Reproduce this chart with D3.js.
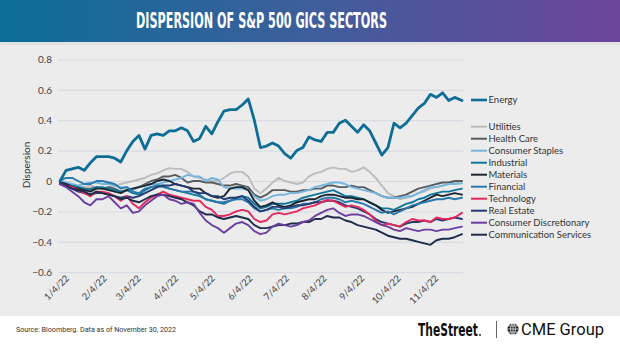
<!DOCTYPE html>
<html>
<head>
<meta charset="utf-8">
<script src="https://cdn.jsdelivr.net/npm/d3@7"></script>
<style>
  html, body { margin: 0; padding: 0; background: #fff; }
  svg { display: block; }
</style>
</head>
<body>
<svg id="chart" width="620" height="349"></svg>
<script>
// Observation dates: every fifth calendar day from the first trading day, closing on Nov 30
const dates = [...d3.timeDay.range(new Date(2022, 0, 3), new Date(2022, 10, 29), 5), new Date(2022, 10, 30)];

// Cumulative dispersion by sector
const energy = [0.00,0.07,0.08,0.09,0.07,0.12,0.16,0.16,0.16,0.15,0.125,0.20,0.26,0.30,0.21,0.30,0.31,0.30,0.33,0.33,0.35,0.33,0.26,0.28,0.36,0.31,0.39,0.46,0.47,0.47,0.50,0.54,0.40,0.22,0.23,0.25,0.23,0.18,0.15,0.20,0.22,0.29,0.27,0.26,0.32,0.32,0.38,0.40,0.36,0.32,0.37,0.33,0.25,0.17,0.22,0.38,0.35,0.38,0.43,0.48,0.51,0.57,0.55,0.58,0.53,0.55,0.53];
const utilities = [-0.01,-0.02,-0.03,-0.03,-0.04,-0.03,-0.04,-0.05,-0.04,-0.03,-0.02,-0.01,0.00,0.01,0.02,0.04,0.05,0.07,0.085,0.08,0.08,0.06,0.03,0.02,0.01,0.00,0.00,0.02,0.05,0.06,0.06,0.03,-0.05,-0.08,-0.05,-0.01,0.02,0.00,-0.01,-0.02,-0.01,0.03,0.05,0.06,0.08,0.09,0.08,0.08,0.06,0.07,0.09,0.06,0.02,-0.03,-0.08,-0.10,-0.12,-0.11,-0.10,-0.08,-0.07,-0.05,-0.04,-0.03,-0.02,-0.01,0.00];
const healthCare = [-0.01,-0.02,-0.03,-0.04,-0.05,-0.05,-0.04,-0.05,-0.04,-0.05,-0.07,-0.06,-0.05,-0.04,-0.02,0.00,0.01,0.03,0.03,0.04,0.02,-0.01,0.00,0.00,-0.01,-0.01,-0.02,-0.03,-0.03,-0.02,-0.03,-0.04,-0.09,-0.11,-0.09,-0.06,-0.06,-0.06,-0.07,-0.07,-0.06,-0.06,-0.05,-0.05,-0.03,-0.03,-0.04,-0.04,-0.03,-0.04,-0.04,-0.06,-0.08,-0.10,-0.11,-0.11,-0.10,-0.09,-0.07,-0.05,-0.04,-0.03,-0.02,-0.01,-0.01,0.00,0.00];
const consumerStaples = [0.00,-0.01,-0.02,-0.03,-0.02,-0.01,-0.01,-0.02,-0.02,-0.03,-0.04,-0.04,-0.06,-0.04,-0.03,-0.02,-0.02,-0.01,0.00,0.01,0.02,0.04,0.03,0.03,0.00,0.02,0.01,-0.04,-0.05,-0.05,-0.05,-0.06,-0.10,-0.13,-0.12,-0.10,-0.09,-0.09,-0.08,-0.08,-0.07,-0.06,-0.04,-0.03,-0.02,-0.01,-0.01,-0.02,-0.04,-0.05,-0.06,-0.07,-0.08,-0.10,-0.11,-0.11,-0.11,-0.10,-0.10,-0.08,-0.06,-0.04,-0.04,-0.03,-0.02,-0.02,-0.015];
const industrial = [-0.01,-0.02,-0.03,-0.04,-0.05,-0.06,-0.04,-0.04,-0.05,-0.06,-0.07,-0.06,-0.08,-0.09,-0.06,-0.04,-0.03,-0.03,-0.05,-0.06,-0.07,-0.08,-0.09,-0.10,-0.12,-0.13,-0.14,-0.15,-0.13,-0.11,-0.10,-0.11,-0.15,-0.18,-0.17,-0.15,-0.15,-0.15,-0.14,-0.13,-0.11,-0.10,-0.09,-0.08,-0.07,-0.06,-0.08,-0.10,-0.10,-0.11,-0.12,-0.14,-0.16,-0.18,-0.18,-0.19,-0.17,-0.15,-0.14,-0.12,-0.11,-0.09,-0.08,-0.07,-0.07,-0.06,-0.05];
const materials = [-0.01,-0.02,-0.04,-0.05,-0.06,-0.07,-0.05,-0.05,-0.06,-0.07,-0.08,-0.06,-0.05,-0.04,-0.03,-0.02,0.00,0.01,0.00,-0.02,-0.03,-0.04,-0.05,-0.05,-0.08,-0.10,-0.11,-0.10,-0.05,-0.04,-0.04,-0.06,-0.13,-0.17,-0.16,-0.14,-0.16,-0.17,-0.16,-0.14,-0.13,-0.12,-0.12,-0.10,-0.09,-0.09,-0.10,-0.11,-0.11,-0.12,-0.12,-0.14,-0.16,-0.19,-0.21,-0.20,-0.19,-0.18,-0.17,-0.15,-0.13,-0.11,-0.09,-0.10,-0.09,-0.08,-0.09];
const financial = [0.00,0.02,0.02,0.00,-0.02,-0.02,0.00,0.00,-0.01,-0.02,-0.05,-0.04,-0.07,-0.08,-0.05,-0.04,-0.03,-0.04,-0.05,-0.06,-0.07,-0.07,-0.07,-0.09,-0.12,-0.13,-0.14,-0.14,-0.13,-0.12,-0.12,-0.14,-0.18,-0.20,-0.19,-0.18,-0.19,-0.18,-0.18,-0.17,-0.15,-0.15,-0.14,-0.12,-0.11,-0.11,-0.12,-0.14,-0.13,-0.14,-0.15,-0.17,-0.19,-0.21,-0.20,-0.22,-0.20,-0.18,-0.16,-0.15,-0.14,-0.13,-0.12,-0.12,-0.11,-0.12,-0.11];
const technology = [-0.02,-0.03,-0.04,-0.06,-0.08,-0.10,-0.07,-0.07,-0.08,-0.10,-0.13,-0.10,-0.15,-0.18,-0.14,-0.11,-0.09,-0.07,-0.09,-0.10,-0.11,-0.12,-0.13,-0.13,-0.17,-0.19,-0.23,-0.23,-0.22,-0.20,-0.19,-0.20,-0.25,-0.27,-0.26,-0.22,-0.21,-0.22,-0.21,-0.20,-0.18,-0.17,-0.16,-0.14,-0.125,-0.13,-0.15,-0.17,-0.16,-0.17,-0.19,-0.22,-0.26,-0.29,-0.28,-0.29,-0.30,-0.27,-0.25,-0.26,-0.26,-0.27,-0.24,-0.25,-0.25,-0.24,-0.21];
const realEstate = [-0.01,-0.03,-0.05,-0.07,-0.08,-0.09,-0.08,-0.08,-0.09,-0.10,-0.11,-0.10,-0.11,-0.10,-0.08,-0.06,-0.04,-0.03,-0.03,-0.02,-0.03,-0.04,-0.07,-0.08,-0.08,-0.10,-0.10,-0.12,-0.11,-0.11,-0.10,-0.13,-0.17,-0.20,-0.19,-0.17,-0.17,-0.18,-0.17,-0.16,-0.16,-0.15,-0.14,-0.14,-0.13,-0.13,-0.14,-0.16,-0.17,-0.18,-0.20,-0.22,-0.25,-0.27,-0.28,-0.29,-0.30,-0.28,-0.27,-0.27,-0.26,-0.27,-0.25,-0.26,-0.25,-0.24,-0.25];
const consumerDiscretionary = [-0.02,-0.04,-0.07,-0.10,-0.14,-0.16,-0.12,-0.12,-0.10,-0.14,-0.18,-0.16,-0.21,-0.20,-0.16,-0.13,-0.10,-0.09,-0.12,-0.13,-0.15,-0.14,-0.15,-0.21,-0.26,-0.29,-0.31,-0.34,-0.31,-0.28,-0.27,-0.29,-0.33,-0.35,-0.34,-0.30,-0.28,-0.29,-0.30,-0.29,-0.27,-0.26,-0.23,-0.21,-0.19,-0.18,-0.21,-0.23,-0.22,-0.22,-0.23,-0.25,-0.27,-0.29,-0.30,-0.32,-0.33,-0.31,-0.32,-0.33,-0.32,-0.32,-0.33,-0.32,-0.32,-0.31,-0.30];
const communicationServices = [-0.02,-0.03,-0.05,-0.06,-0.07,-0.09,-0.07,-0.08,-0.09,-0.10,-0.12,-0.11,-0.13,-0.14,-0.12,-0.10,-0.09,-0.09,-0.10,-0.11,-0.12,-0.14,-0.16,-0.20,-0.22,-0.22,-0.24,-0.25,-0.24,-0.23,-0.24,-0.25,-0.29,-0.31,-0.31,-0.30,-0.29,-0.29,-0.28,-0.28,-0.27,-0.27,-0.25,-0.25,-0.23,-0.24,-0.24,-0.26,-0.27,-0.29,-0.30,-0.31,-0.32,-0.34,-0.36,-0.37,-0.38,-0.38,-0.39,-0.40,-0.41,-0.42,-0.39,-0.38,-0.38,-0.37,-0.35];

const sectorNames = ["Energy", "Utilities", "Health Care", "Consumer Staples", "Industrial", "Materials",
  "Financial", "Technology", "Real Estate", "Consumer Discretionary", "Communication Services"];
const sectorValues = [energy, utilities, healthCare, consumerStaples, industrial, materials,
  financial, technology, realEstate, consumerDiscretionary, communicationServices];

const yTicks = [0.8, 0.6, 0.4, 0.2, 0, -0.2, -0.4, -0.6];
const xTickDates = [new Date(2022,0,4), new Date(2022,1,4), new Date(2022,2,4), new Date(2022,3,4),
  new Date(2022,4,4), new Date(2022,5,4), new Date(2022,6,4), new Date(2022,7,4),
  new Date(2022,8,4), new Date(2022,9,4), new Date(2022,10,4)];

const titleText = "DISPERSION OF S&P 500 GICS SECTORS";
const sourceText = "Source: Bloomberg. Data as of November 30, 2022";

// Styling
const sectorColors = ["#0d6d96", "#bcbcbc", "#585c60", "#74b6df", "#10789c", "#1c2630",
  "#2a79ad", "#e6275c", "#243a72", "#6c3ea1", "#1d2c4a"];
const font = "Lato, 'Noto Sans', sans-serif";

const svg = d3.select("#chart");
const W = 620, H = 349;

// Header band
const defs = svg.append("defs");
const grad = defs.append("linearGradient").attr("id", "hdr").attr("x1", "0%").attr("x2", "100%");
grad.append("stop").attr("offset", "0%").attr("stop-color", "#0b6e97");
grad.append("stop").attr("offset", "50%").attr("stop-color", "#3e5e9c");
grad.append("stop").attr("offset", "100%").attr("stop-color", "#6d449a");

svg.append("rect").attr("x", 0).attr("y", 42).attr("width", W).attr("height", 274).attr("fill", "#ececec");
svg.append("rect").attr("x", 0).attr("y", 42).attr("width", W).attr("height", 3).attr("fill", "#e2e2e2");
svg.append("rect").attr("x", 0).attr("y", 0).attr("width", W).attr("height", 42).attr("fill", "url(#hdr)");
svg.append("rect").attr("x", 0).attr("y", 316).attr("width", W).attr("height", H - 316).attr("fill", "#ffffff");

svg.append("text")
  .attr("x", 136).attr("y", 28.3)
  .attr("textLength", 251).attr("lengthAdjust", "spacingAndGlyphs")
  .attr("font-family", "'Liberation Sans Narrow', 'DejaVu Sans Condensed', sans-serif")
  .attr("font-weight", "bold").attr("font-size", 21).attr("fill", "#ffffff")
  .text(titleText);

// Scales
const x = d3.scaleTime().domain([dates[0], dates[dates.length - 1]]).range([60, 462]);
const y = d3.scaleLinear().domain([-0.6, 0.8]).range([272.2, 59.4]);

// Y axis with full-width gridlines
const yAxis = svg.append("g").attr("transform", "translate(58,0)")
  .call(d3.axisLeft(y).tickValues(yTicks).tickSize(-405).tickPadding(6)
    .tickFormat(d => d === 0 ? "0" : d3.format(".1f")(d)));
yAxis.select(".domain").remove();
yAxis.selectAll(".tick line").attr("stroke", "#d5d8e3").attr("stroke-width", 1);
yAxis.selectAll(".tick text").attr("font-family", font).attr("font-size", 10).attr("fill", "#444");

svg.append("text")
  .attr("transform", "translate(30,165) rotate(-90)")
  .attr("text-anchor", "middle")
  .attr("font-family", font).attr("font-size", 10).attr("fill", "#333")
  .text("Dispersion");

// X axis: rotated date labels
const xAxis = svg.append("g").attr("transform", "translate(0,272)")
  .call(d3.axisBottom(x).tickValues(xTickDates).tickSize(0).tickFormat(d3.timeFormat("%-m/%-d/%y")));
xAxis.select(".domain").remove();
xAxis.selectAll(".tick text")
  .attr("x", 0).attr("y", 0).attr("dy", 0)
  .attr("text-anchor", "end")
  .attr("transform", "translate(8,7) rotate(-45)")
  .attr("font-family", font).attr("font-size", 9.5).attr("fill", "#444");

// Sector lines, Energy drawn last so it sits on top
const line = d3.line().x((d, i) => x(dates[i])).y(d => y(d)).curve(d3.curveLinear);
const order = [1, 2, 3, 4, 5, 6, 8, 7, 10, 9, 0];
svg.append("g").selectAll("path").data(order).join("path")
  .attr("d", i => line(sectorValues[i]))
  .attr("fill", "none")
  .attr("stroke", i => sectorColors[i])
  .attr("stroke-width", i => i === 0 ? 2.8 : 1.9)
  .attr("stroke-linejoin", "round")
  .attr("stroke-linecap", "round");

// Legend
const legend = svg.append("g").attr("transform", "translate(471,0)");
sectorNames.forEach((name, i) => {
  const ly = i === 0 ? 100 : 126.7 + 12 * (i - 1);
  legend.append("line").attr("x1", 0).attr("x2", 16).attr("y1", ly).attr("y2", ly)
    .attr("stroke", sectorColors[i]).attr("stroke-width", i === 0 ? 2.6 : 2);
  legend.append("text").attr("x", 17.5).attr("y", ly).attr("dy", "0.35em")
    .attr("font-family", font).attr("font-size", 9.5).attr("fill", "#333").text(name);
});

// Footer
svg.append("text").attr("x", 16).attr("y", 332)
  .attr("font-family", "Roboto, sans-serif").attr("font-size", 8).attr("fill", "#333")
  .attr("textLength", 160).attr("lengthAdjust", "spacingAndGlyphs")
  .text(sourceText);

svg.append("text").attr("x", 418).attr("y", 336)
  .attr("font-family", "'Liberation Sans Narrow', 'DejaVu Sans Condensed', sans-serif")
  .attr("font-weight", "bold").attr("font-size", 18).attr("fill", "#111")
  .attr("textLength", 60).attr("lengthAdjust", "spacingAndGlyphs")
  .text("TheStreet");
svg.append("circle").attr("cx", 480).attr("cy", 335).attr("r", 0.9).attr("fill", "#111");
svg.append("line").attr("x1", 496.5).attr("x2", 496.5).attr("y1", 321).attr("y2", 338)
  .attr("stroke", "#666").attr("stroke-width", 1);

// Globe mark
const globe = svg.append("g").attr("transform", "translate(513,329)");
globe.append("circle").attr("r", 5.6).attr("fill", "#1a1a1a");
[-3, 0, 3].forEach(o => {
  globe.append("line").attr("x1", -5.6).attr("x2", 5.6).attr("y1", o).attr("y2", o).attr("stroke", "#fff").attr("stroke-width", 0.7);
});
globe.append("ellipse").attr("rx", 2.4).attr("ry", 5.6).attr("fill", "none").attr("stroke", "#fff").attr("stroke-width", 0.7);
globe.append("line").attr("x1", 0).attr("x2", 0).attr("y1", -5.6).attr("y2", 5.6).attr("stroke", "#fff").attr("stroke-width", 0.7);

svg.append("text").attr("x", 521).attr("y", 335)
  .attr("font-family", "Roboto, 'Liberation Sans', sans-serif").attr("font-size", 16).attr("fill", "#111")
  .attr("textLength", 83).attr("lengthAdjust", "spacingAndGlyphs")
  .text("CME Group");
</script>
</body>
</html>
